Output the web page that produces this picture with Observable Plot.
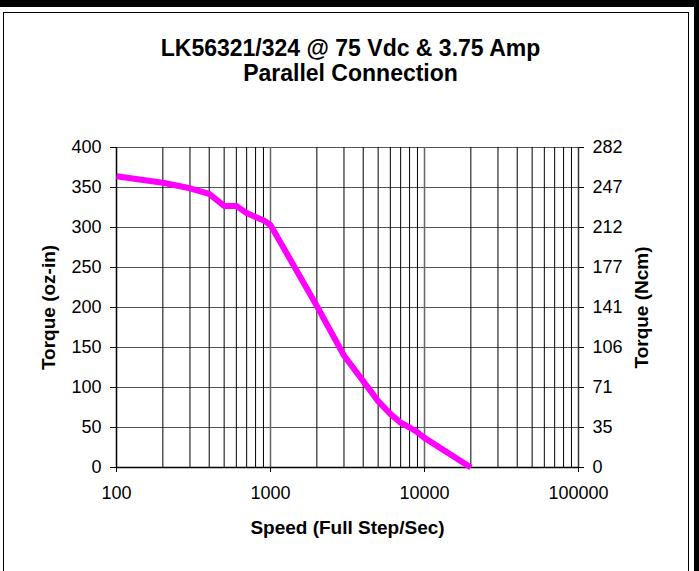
<!DOCTYPE html>
<html>
<head>
<meta charset="utf-8">
<script src="https://cdn.jsdelivr.net/npm/d3@7"></script>
<script src="https://cdn.jsdelivr.net/npm/@observablehq/plot@0.6"></script>
<style>
  html, body { margin: 0; padding: 0; background: #fff; }
  #wrap { position: relative; width: 699px; height: 571px; overflow: hidden; }
  #wrap svg { position: absolute; left: 0; top: 0; }
  .deco { position: absolute; pointer-events: none; }
</style>
</head>
<body>
<div id="wrap">
  <div class="deco" style="left:0;top:0;width:699px;height:7px;background:#000"></div>
  <div class="deco" style="left:694px;top:0;width:5px;height:571px;background:#000"></div>
  <div class="deco" style="left:3px;top:12px;width:686px;height:600px;border:1.5px solid #000;box-sizing:border-box"></div>
</div>
<script>
// Data
const speeds = [100, 200, 300, 400, 500, 600, 700, 800, 900, 1000, 2000, 3000, 4000, 5000, 6000, 7000, 8000, 9000, 10000, 20000];
const torqueOzIn = [364, 356, 349, 342, 327, 327, 318, 313, 309, 303, 202, 140, 108, 83, 67, 56, 50, 44, 37, 0];

const yTicks = [0, 50, 100, 150, 200, 250, 300, 350, 400];
const ncmLabels = ["0", "35", "71", "106", "141", "177", "212", "247", "282"];
const xTicks = [100, 1000, 10000, 100000];
const minorX = [200, 300, 400, 500, 600, 700, 800, 900,
                2000, 3000, 4000, 5000, 6000, 7000, 8000, 9000,
                20000, 30000, 40000, 50000, 60000, 70000, 80000, 90000];
const majorX = [1000, 10000];

const titleLines = ["LK56321/324 @ 75 Vdc & 3.75 Amp", "Parallel Connection"];
const xLabel = "Speed (Full Step/Sec)";
const yLabelLeft = "Torque (oz-in)";
const yLabelRight = "Torque (Ncm)";

const rows = speeds.map((s, i) => ({speed: s, torque: torqueOzIn[i]}));

const chart = Plot.plot({
  width: 699,
  height: 571,
  marginLeft: 116,
  marginRight: 121,
  marginTop: 147,
  marginBottom: 104,
  x: {type: "log", domain: [100, 100000]},
  y: {domain: [0, 400]},
  style: {fontFamily: "'Liberation Sans', Arial, sans-serif", fontSize: "18px", color: "#000", background: "transparent"},
  marks: [
    Plot.ruleY(yTicks, {stroke: "#555", strokeWidth: 1}),
    Plot.ruleX(minorX, {stroke: "#000", strokeWidth: 1}),
    Plot.ruleX(majorX, {stroke: "#666", strokeWidth: 1.5}),
    Plot.ruleX([100], {stroke: "#000", strokeWidth: 1.5}),
    Plot.ruleX([100000], {stroke: "#333", strokeWidth: 1.5}),
    Plot.ruleY([0], {stroke: "#000", strokeWidth: 1.5}),
    Plot.axisY(yTicks, {anchor: "left", tickSize: 6, tickPadding: 9, label: null, fontSize: 18}),
    Plot.axisY(yTicks, {anchor: "right", tickSize: 5, tickPadding: 9, label: null, fontSize: 18,
      tickFormat: d => ncmLabels[yTicks.indexOf(d)]}),
    Plot.axisX(xTicks, {anchor: "bottom", tickSize: 5, tickPadding: 14, label: null, fontSize: 18,
      tickFormat: d => String(d)}),
    Plot.line(rows, {x: "speed", y: "torque", stroke: "#ff00ff", strokeWidth: 6, strokeLinejoin: "round", strokeLinecap: "butt"}),
    Plot.text([yLabelLeft], {frameAnchor: "left", dx: -68, rotate: -90, textAnchor: "middle", lineAnchor: "middle", fontWeight: "bold", fontSize: 19}),
    Plot.text([yLabelRight], {frameAnchor: "right", dx: 63, rotate: -90, textAnchor: "middle", lineAnchor: "middle", fontWeight: "bold", fontSize: 19}),
    Plot.text([xLabel], {frameAnchor: "bottom", dy: 60, textAnchor: "middle", lineAnchor: "middle", fontWeight: "bold", fontSize: 19}),
    Plot.text([titleLines[0]], {frameAnchor: "top", dy: -99, dx: 3, textAnchor: "middle", lineAnchor: "middle", fontWeight: "bold", fontSize: 23}),
    Plot.text([titleLines[1]], {frameAnchor: "top", dy: -74, dx: 3, textAnchor: "middle", lineAnchor: "middle", fontWeight: "bold", fontSize: 23})
  ]
});
document.getElementById("wrap").prepend(chart);
</script>
</body>
</html>
